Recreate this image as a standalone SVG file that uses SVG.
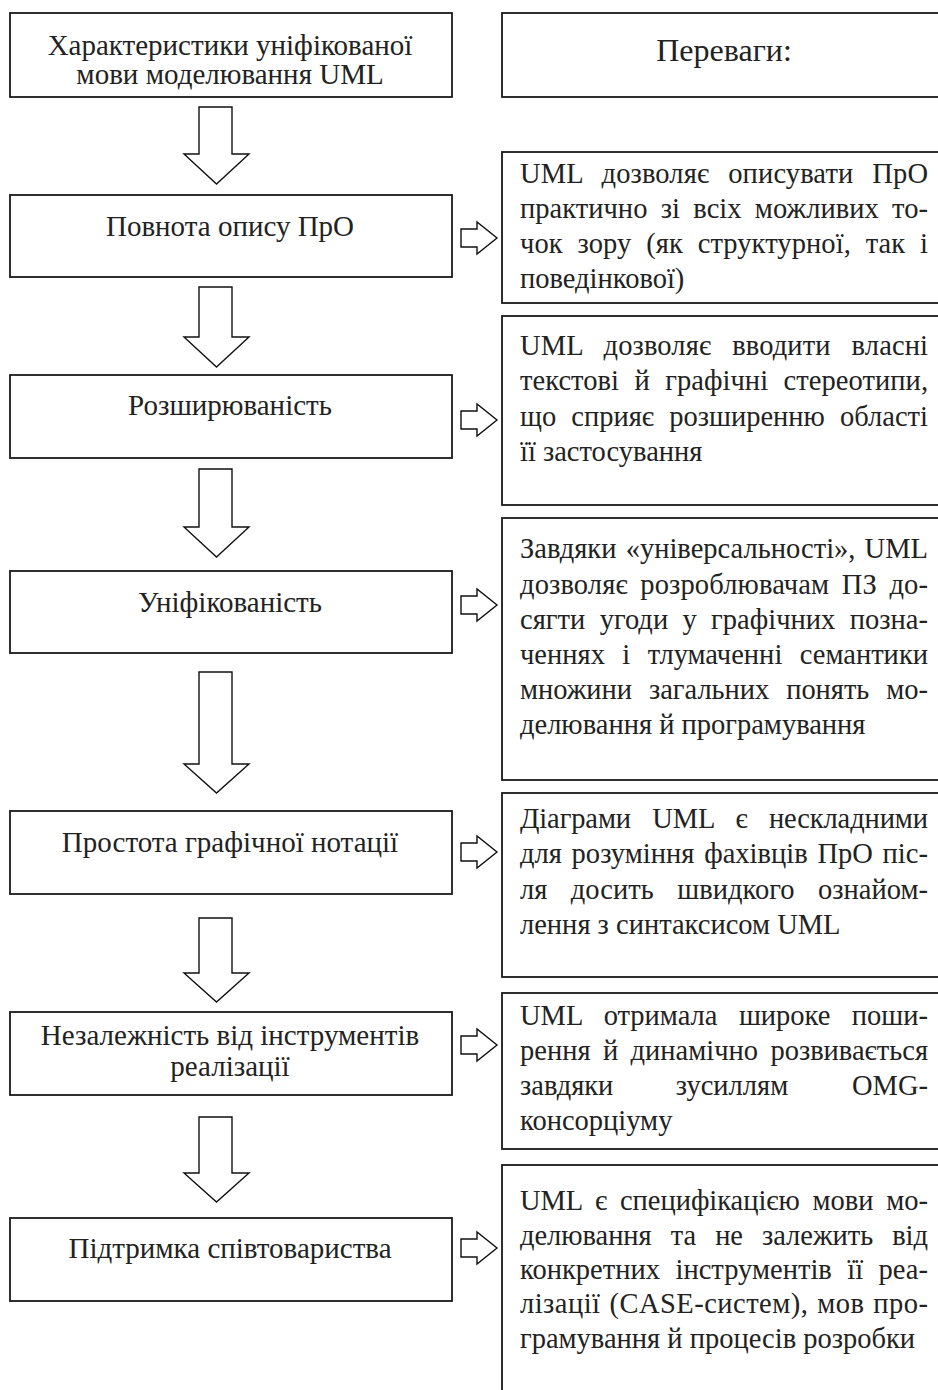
<svg xmlns="http://www.w3.org/2000/svg" width="938" height="1390" viewBox="0 0 938 1390">
<style>
.box{fill:#fff;stroke:#1a1a1a;stroke-width:1.8}
.arr{fill:#fff;stroke:#111;stroke-width:1.4;stroke-linejoin:miter}
.lt{font-family:"Liberation Serif","Times New Roman",serif;font-size:29px;fill:#222;text-anchor:middle}
.hd{font-family:"Liberation Serif","Times New Roman",serif;font-size:32px;fill:#222;text-anchor:middle}
.rt{font-family:"Liberation Serif","Times New Roman",serif;font-size:28.5px;fill:#222}
</style>
<rect width="938" height="1390" fill="#fff"/>
<g id="left-1"><rect class="box" x="10" y="13" width="442" height="84"/><text class="lt" x="230" y="55">Характеристики уніфікованої</text><text class="lt" x="230" y="84">мови моделювання UML</text></g>
<g id="left-2"><rect class="box" x="10" y="195" width="442" height="82"/><text class="lt" x="230" y="236">Повнота опису ПрО</text></g>
<g id="left-3"><rect class="box" x="10" y="375" width="442" height="83"/><text class="lt" x="230" y="415">Розширюваність</text></g>
<g id="left-4"><rect class="box" x="10" y="571" width="442" height="82"/><text class="lt" x="230" y="612">Уніфікованість</text></g>
<g id="left-5"><rect class="box" x="10" y="811" width="442" height="83"/><text class="lt" x="230" y="852">Простота графічної нотації</text></g>
<g id="left-6"><rect class="box" x="10" y="1012" width="442" height="83"/><text class="lt" x="230" y="1045">Незалежність від інструментів</text><text class="lt" x="230" y="1076">реалізації</text></g>
<g id="left-7"><rect class="box" x="10" y="1218" width="442" height="83"/><text class="lt" x="230" y="1258">Підтримка співтовариства</text></g>

<g id="right-0"><rect class="box" x="502" y="13" width="446" height="84"/><text class="hd" x="724" y="61">Переваги:</text></g>
<g id="right-1"><rect class="box" x="502" y="152" width="446" height="151"/>
<text class="rt" x="520" y="183" style="word-spacing:11.7px" textLength="408" lengthAdjust="spacing">UML дозволяє описувати ПрО</text>
<text class="rt" x="520" y="218" style="word-spacing:6.2px" textLength="408" lengthAdjust="spacing">практично зі всіх можливих то-</text>
<text class="rt" x="520" y="253" style="word-spacing:7.6px" textLength="408" lengthAdjust="spacing">чок зору (як структурної, так і</text>
<text class="rt" x="520" y="288">поведінкової)</text></g>
<g id="right-2"><rect class="box" x="502" y="316" width="446" height="189"/>
<text class="rt" x="520" y="355" style="word-spacing:13.7px" textLength="408" lengthAdjust="spacing">UML дозволяє вводити власні</text>
<text class="rt" x="520" y="390" style="word-spacing:8.3px" textLength="408" lengthAdjust="spacing">текстові й графічні стереотипи,</text>
<text class="rt" x="520" y="426" style="word-spacing:8px" textLength="408" lengthAdjust="spacing">що сприяє розширенню області</text>
<text class="rt" x="520" y="461">її застосування</text></g>
<g id="right-3"><rect class="box" x="502" y="518" width="446" height="262"/>
<text class="rt" x="520" y="558" style="word-spacing:2px" textLength="408" lengthAdjust="spacing">Завдяки «універсальності», UML</text>
<text class="rt" x="520" y="594" style="word-spacing:5.3px" textLength="408" lengthAdjust="spacing">дозволяє розроблювачам ПЗ до-</text>
<text class="rt" x="520" y="629" style="word-spacing:7.2px" textLength="408" lengthAdjust="spacing">сягти угоди у графічних позна-</text>
<text class="rt" x="520" y="664" style="word-spacing:10.3px" textLength="408" lengthAdjust="spacing">ченнях і тлумаченні семантики</text>
<text class="rt" x="520" y="699" style="word-spacing:10px" textLength="408" lengthAdjust="spacing">множини загальних понять мо-</text>
<text class="rt" x="520" y="734">делювання й програмування</text></g>
<g id="right-4"><rect class="box" x="502" y="793" width="446" height="184"/>
<text class="rt" x="520" y="828" style="word-spacing:14.3px" textLength="408" lengthAdjust="spacing">Діаграми UML є нескладними</text>
<text class="rt" x="520" y="863" style="word-spacing:2.5px" textLength="408" lengthAdjust="spacing">для розуміння фахівців ПрО піс-</text>
<text class="rt" x="520" y="899" style="word-spacing:16.3px" textLength="408" lengthAdjust="spacing">ля досить швидкого ознайом-</text>
<text class="rt" x="520" y="934">лення з синтаксисом UML</text></g>
<g id="right-5"><rect class="box" x="502" y="993" width="446" height="156"/>
<text class="rt" x="520" y="1025" style="word-spacing:14.3px" textLength="408" lengthAdjust="spacing">UML отримала широке поши-</text>
<text class="rt" x="520" y="1060" style="word-spacing:5.3px" textLength="408" lengthAdjust="spacing">рення й динамічно розвивається</text>
<text class="rt" x="520" y="1095">завдяки</text><text class="rt" x="732" y="1095" text-anchor="middle">зусиллям</text><text class="rt" x="928" y="1095" text-anchor="end">OMG-</text>
<text class="rt" x="520" y="1130">консорціуму</text></g>
<g id="right-6"><rect class="box" x="502" y="1165" width="446" height="240"/>
<text class="rt" x="520" y="1210" style="word-spacing:5.7px" textLength="408" lengthAdjust="spacing">UML є специфікацією мови мо-</text>
<text class="rt" x="520" y="1245" style="word-spacing:12px" textLength="408" lengthAdjust="spacing">делювання та не залежить від</text>
<text class="rt" x="520" y="1279" style="word-spacing:8.3px" textLength="408" lengthAdjust="spacing">конкретних інструментів її реа-</text>
<text class="rt" x="520" y="1313" style="word-spacing:1.3px" textLength="408" lengthAdjust="spacing">лізації (CASE-систем), мов про-</text>
<text class="rt" x="520" y="1348">грамування й процесів розробки</text></g>

<g id="connectors">
<path class="arr" d="M199,107 H232 V154 H249 L216.5,184 L184,154 H199 Z"/>
<path class="arr" d="M199,287 H232 V337 H249 L216.5,367 L184,337 H199 Z"/>
<path class="arr" d="M199,469 H232 V527 H249 L216.5,557 L184,527 H199 Z"/>
<path class="arr" d="M199,672 H232 V764 H249 L216.5,793 L184,764 H199 Z"/>
<path class="arr" d="M199,918 H232 V973 H249 L216.5,1002 L184,973 H199 Z"/>
<path class="arr" d="M199,1117 H232 V1173 H249 L216.5,1202 L184,1173 H199 Z"/>
<path class="arr" d="M461,229 H477 V222 L497,238 L477,254 V247 H461 Z"/>
<path class="arr" d="M461,411 H477 V404 L497,420 L477,436 V429 H461 Z"/>
<path class="arr" d="M461,596 H477 V589 L497,605 L477,621 V614 H461 Z"/>
<path class="arr" d="M461,843 H477 V836 L497,852 L477,868 V861 H461 Z"/>
<path class="arr" d="M461,1036 H477 V1029 L497,1045 L477,1061 V1054 H461 Z"/>
<path class="arr" d="M461,1239 H477 V1232 L497,1248 L477,1264 V1257 H461 Z"/>
</g>
</svg>
